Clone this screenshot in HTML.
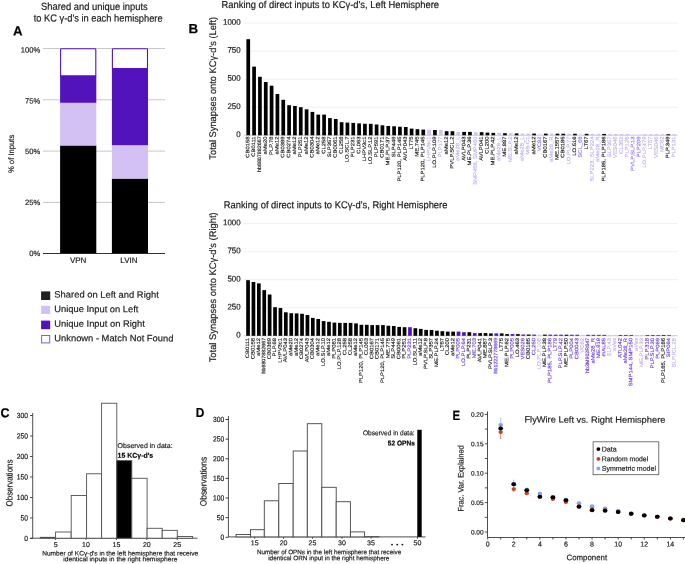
<!DOCTYPE html>
<html><head><meta charset="utf-8">
<style>
html,body{margin:0;padding:0;background:#fff;width:685px;height:564px;overflow:hidden}
svg{display:block;font-family:"Liberation Sans", sans-serif;-webkit-font-smoothing:antialiased;will-change:transform;transform:translateZ(0)}
</style></head><body>
<svg width="685" height="564" viewBox="0 0 685 564">
<rect width="685" height="564" fill="#fff"/>
<text transform="translate(94.4,9.9) rotate(0.04) scale(1,1.08)" x="0" y="0" font-size="9.4" text-anchor="middle" font-weight="normal" fill="#1a1a1a" textLength="106.6" lengthAdjust="spacingAndGlyphs"  stroke="#1a1a1a" stroke-width="0.18">Shared and unique inputs</text>
<text transform="translate(98.15,21.6) rotate(0.04) scale(1,1.08)" x="0" y="0" font-size="9.4" text-anchor="middle" font-weight="normal" fill="#1a1a1a" textLength="129.0" lengthAdjust="spacingAndGlyphs"  stroke="#1a1a1a" stroke-width="0.18">to KC γ-d's in each hemisphere</text>
<text transform="translate(13.0,35.6) rotate(0.04) scale(1,1.0)" x="0" y="0" font-size="13.4" text-anchor="start" font-weight="bold" fill="#000" textLength="9.6" lengthAdjust="spacingAndGlyphs"  stroke="#000" stroke-width="0.18">A</text>
<line x1="43" y1="48.5" x2="165" y2="48.5" stroke="#c8c8c8" stroke-width="1"/>
<line x1="43" y1="99.8" x2="165" y2="99.8" stroke="#c8c8c8" stroke-width="1"/>
<line x1="43" y1="151.1" x2="165" y2="151.1" stroke="#c8c8c8" stroke-width="1"/>
<line x1="43" y1="202.4" x2="165" y2="202.4" stroke="#c8c8c8" stroke-width="1"/>
<text transform="translate(40.3,52.5) rotate(0.04) scale(1,1.0)" x="0" y="0" font-size="7.6" text-anchor="end" font-weight="normal" fill="#222"  stroke="#222" stroke-width="0.18">100%</text>
<text transform="translate(40.3,103.4) rotate(0.04) scale(1,1.0)" x="0" y="0" font-size="7.6" text-anchor="end" font-weight="normal" fill="#222"  stroke="#222" stroke-width="0.18">75%</text>
<text transform="translate(40.3,154.0) rotate(0.04) scale(1,1.0)" x="0" y="0" font-size="7.6" text-anchor="end" font-weight="normal" fill="#222"  stroke="#222" stroke-width="0.18">50%</text>
<text transform="translate(40.3,205.0) rotate(0.04) scale(1,1.0)" x="0" y="0" font-size="7.6" text-anchor="end" font-weight="normal" fill="#222"  stroke="#222" stroke-width="0.18">25%</text>
<text transform="translate(40.3,256.1) rotate(0.04) scale(1,1.0)" x="0" y="0" font-size="7.6" text-anchor="end" font-weight="normal" fill="#222"  stroke="#222" stroke-width="0.18">0%</text>
<line x1="43" y1="253.5" x2="165" y2="253.5" stroke="#333" stroke-width="1"/>
<rect x="60.1" y="145.5" width="36.199999999999996" height="107.80000000000001" fill="#000"/>
<rect x="60.1" y="102.8" width="36.199999999999996" height="42.7" fill="#d3c1f4"/>
<rect x="60.1" y="75.9" width="36.199999999999996" height="26.89999999999999" fill="#5213bc"/>
<rect x="60.6" y="48.7" width="35.2" height="27.3" fill="#fff" stroke="#5213bc" stroke-width="1.1" rx="0.8"/>
<rect x="60.1" y="75.5" width="36.199999999999996" height="0.9000000000000057" fill="#5213bc"/>
<rect x="111.9" y="178.6" width="36.099999999999994" height="74.70000000000002" fill="#000"/>
<rect x="111.9" y="145.2" width="36.099999999999994" height="33.400000000000006" fill="#d3c1f4"/>
<rect x="111.9" y="68.4" width="36.099999999999994" height="76.79999999999998" fill="#5213bc"/>
<rect x="112.4" y="48.7" width="35.1" height="19.9" fill="#fff" stroke="#5213bc" stroke-width="1.1" rx="0.8"/>
<rect x="111.9" y="68.0" width="36.099999999999994" height="1.0" fill="#5213bc"/>
<text transform="translate(78.1,263.0) rotate(0.04) scale(1,1.0)" x="0" y="0" font-size="8" text-anchor="middle" font-weight="normal" fill="#1a1a1a"  stroke="#1a1a1a" stroke-width="0.18">VPN</text>
<text transform="translate(128.9,263.0) rotate(0.04) scale(1,1.0)" x="0" y="0" font-size="8" text-anchor="middle" font-weight="normal" fill="#1a1a1a"  stroke="#1a1a1a" stroke-width="0.18">LVIN</text>
<text transform="translate(14.0,153.9) rotate(-89.96)" x="0" y="0" font-size="8.1" text-anchor="middle" fill="#222" textLength="38.4" lengthAdjust="spacingAndGlyphs" stroke="#222" stroke-width="0.18">% of Inputs</text>
<rect x="41.1" y="291.4" width="9.1" height="8.600000000000023" fill="#231f20"/>
<text transform="translate(54.3,297.6) rotate(0.04) scale(1,1.0)" x="0" y="0" font-size="9.2" text-anchor="start" font-weight="normal" fill="#1a1a1a" textLength="104.5" lengthAdjust="spacingAndGlyphs"  stroke="#1a1a1a" stroke-width="0.18">Shared on Left and Right</text>
<rect x="41.1" y="305.8" width="9.1" height="8.199999999999989" fill="#d3c1f4"/>
<text transform="translate(54.3,312.1) rotate(0.04) scale(1,1.0)" x="0" y="0" font-size="9.2" text-anchor="start" font-weight="normal" fill="#1a1a1a" textLength="84.1" lengthAdjust="spacingAndGlyphs"  stroke="#1a1a1a" stroke-width="0.18">Unique Input on Left</text>
<rect x="41.1" y="320.6" width="9.1" height="8.599999999999966" fill="#5213bc"/>
<text transform="translate(54.3,326.8) rotate(0.04) scale(1,1.0)" x="0" y="0" font-size="9.2" text-anchor="start" font-weight="normal" fill="#1a1a1a" textLength="90.5" lengthAdjust="spacingAndGlyphs"  stroke="#1a1a1a" stroke-width="0.18">Unique Input on Right</text>
<rect x="41.6" y="335.5" width="8.1" height="7.399999999999977" fill="#fff" stroke="#7f5ce0" stroke-width="1"/>
<text transform="translate(54.3,341.3) rotate(0.04) scale(1,1.0)" x="0" y="0" font-size="9.2" text-anchor="start" font-weight="normal" fill="#1a1a1a" textLength="119.1" lengthAdjust="spacingAndGlyphs"  stroke="#1a1a1a" stroke-width="0.18">Unknown - Match Not Found</text>
<text transform="translate(188.6,33.3) rotate(0.04) scale(1,1.0)" x="0" y="0" font-size="13.3" text-anchor="start" font-weight="bold" fill="#000"  stroke="#000" stroke-width="0.18">B</text>
<text transform="translate(221.6,7.9) rotate(0.04) scale(1,1.08)" x="0" y="0" font-size="9.3" text-anchor="start" font-weight="normal" fill="#1a1a1a" textLength="217.4" lengthAdjust="spacingAndGlyphs"  stroke="#1a1a1a" stroke-width="0.18">Ranking of direct inputs to KCγ-d's, Left Hemisphere</text>
<line x1="244" y1="23.00" x2="677.5" y2="23.00" stroke="#ededed" stroke-width="0.9"/>
<text transform="translate(240.6,24.7) rotate(0.04) scale(1,1.05)" x="0" y="0" font-size="7.9" text-anchor="end" font-weight="normal" fill="#1a1a1a"  stroke="#1a1a1a" stroke-width="0.18">1000</text>
<line x1="244" y1="51.08" x2="677.5" y2="51.08" stroke="#ededed" stroke-width="0.9"/>
<text transform="translate(240.6,52.78) rotate(0.04) scale(1,1.05)" x="0" y="0" font-size="7.9" text-anchor="end" font-weight="normal" fill="#1a1a1a"  stroke="#1a1a1a" stroke-width="0.18">750</text>
<line x1="244" y1="79.15" x2="677.5" y2="79.15" stroke="#ededed" stroke-width="0.9"/>
<text transform="translate(240.6,80.85) rotate(0.04) scale(1,1.05)" x="0" y="0" font-size="7.9" text-anchor="end" font-weight="normal" fill="#1a1a1a"  stroke="#1a1a1a" stroke-width="0.18">500</text>
<line x1="244" y1="107.23" x2="677.5" y2="107.23" stroke="#ededed" stroke-width="0.9"/>
<text transform="translate(240.6,108.93) rotate(0.04) scale(1,1.05)" x="0" y="0" font-size="7.9" text-anchor="end" font-weight="normal" fill="#1a1a1a"  stroke="#1a1a1a" stroke-width="0.18">250</text>
<text transform="translate(240.6,137.0) rotate(0.04) scale(1,1.05)" x="0" y="0" font-size="7.9" text-anchor="end" font-weight="normal" fill="#1a1a1a"  stroke="#1a1a1a" stroke-width="0.18">0</text>
<line x1="244" y1="135.3" x2="677.5" y2="135.3" stroke="#bbb" stroke-width="0.7"/>
<rect x="246.40" y="39.20" width="3.7" height="96.10" fill="#000"/>
<text transform="translate(249.30,136.4) rotate(-89.96) scale(1.19,1)" x="0" y="0" font-size="4.95" text-anchor="end" fill="#111" stroke="#111" stroke-width="0.14">CB0158</text>
<rect x="252.23" y="66.60" width="3.7" height="68.70" fill="#000"/>
<text transform="translate(255.13,136.4) rotate(-89.96) scale(1.19,1)" x="0" y="0" font-size="4.95" text-anchor="end" fill="#111" stroke="#111" stroke-width="0.14">CB0111</text>
<rect x="258.07" y="76.80" width="3.7" height="58.50" fill="#000"/>
<text transform="translate(260.97,136.4) rotate(-89.96) scale(1.08,1)" x="0" y="0" font-size="4.95" text-anchor="end" fill="#111" stroke="#111" stroke-width="0.14">hb6807882667</text>
<rect x="263.90" y="82.00" width="3.7" height="53.30" fill="#000"/>
<text transform="translate(266.80,136.4) rotate(-89.96) scale(1.19,1)" x="0" y="0" font-size="4.95" text-anchor="end" fill="#111" stroke="#111" stroke-width="0.14">aMe20</text>
<rect x="269.74" y="85.70" width="3.7" height="49.60" fill="#000"/>
<text transform="translate(272.64,136.4) rotate(-89.96) scale(1.19,1)" x="0" y="0" font-size="4.95" text-anchor="end" fill="#111" stroke="#111" stroke-width="0.14">PLP.78</text>
<rect x="275.57" y="94.00" width="3.7" height="41.30" fill="#000"/>
<text transform="translate(278.47,136.4) rotate(-89.96) scale(1.19,1)" x="0" y="0" font-size="4.95" text-anchor="end" fill="#111" stroke="#111" stroke-width="0.14">aMe12</text>
<rect x="281.40" y="99.80" width="3.7" height="35.50" fill="#000"/>
<text transform="translate(284.30,136.4) rotate(-89.96) scale(1.19,1)" x="0" y="0" font-size="4.95" text-anchor="end" fill="#111" stroke="#111" stroke-width="0.14">CB0389</text>
<rect x="287.24" y="105.20" width="3.7" height="30.10" fill="#000"/>
<text transform="translate(290.14,136.4) rotate(-89.96) scale(1.19,1)" x="0" y="0" font-size="4.95" text-anchor="end" fill="#111" stroke="#111" stroke-width="0.14">CB0274</text>
<rect x="293.07" y="106.00" width="3.7" height="29.30" fill="#000"/>
<text transform="translate(295.97,136.4) rotate(-89.96) scale(1.19,1)" x="0" y="0" font-size="4.95" text-anchor="end" fill="#111" stroke="#111" stroke-width="0.14">aMe12</text>
<rect x="298.91" y="107.20" width="3.7" height="28.10" fill="#000"/>
<text transform="translate(301.81,136.4) rotate(-89.96) scale(1.19,1)" x="0" y="0" font-size="4.95" text-anchor="end" fill="#111" stroke="#111" stroke-width="0.14">PLP251</text>
<rect x="304.74" y="109.30" width="3.7" height="26.00" fill="#000"/>
<text transform="translate(307.64,136.4) rotate(-89.96) scale(1.19,1)" x="0" y="0" font-size="4.95" text-anchor="end" fill="#111" stroke="#111" stroke-width="0.14">aMe12</text>
<rect x="310.57" y="111.90" width="3.7" height="23.40" fill="#000"/>
<text transform="translate(313.47,136.4) rotate(-89.96) scale(1.19,1)" x="0" y="0" font-size="4.95" text-anchor="end" fill="#111" stroke="#111" stroke-width="0.14">CB0304</text>
<rect x="316.41" y="114.60" width="3.7" height="20.70" fill="#000"/>
<text transform="translate(319.31,136.4) rotate(-89.96) scale(1.19,1)" x="0" y="0" font-size="4.95" text-anchor="end" fill="#111" stroke="#111" stroke-width="0.14">aMe12</text>
<rect x="322.24" y="114.60" width="3.7" height="20.70" fill="#000"/>
<text transform="translate(325.14,136.4) rotate(-89.96) scale(1.19,1)" x="0" y="0" font-size="4.95" text-anchor="end" fill="#111" stroke="#111" stroke-width="0.14">CL258</text>
<rect x="328.08" y="118.10" width="3.7" height="17.20" fill="#000"/>
<text transform="translate(330.98,136.4) rotate(-89.96) scale(1.19,1)" x="0" y="0" font-size="4.95" text-anchor="end" fill="#111" stroke="#111" stroke-width="0.14">SLP357</text>
<rect x="333.91" y="119.00" width="3.7" height="16.30" fill="#000"/>
<text transform="translate(336.81,136.4) rotate(-89.96) scale(1.19,1)" x="0" y="0" font-size="4.95" text-anchor="end" fill="#111" stroke="#111" stroke-width="0.14">CB0061</text>
<rect x="339.74" y="122.20" width="3.7" height="13.10" fill="#000"/>
<text transform="translate(342.64,136.4) rotate(-89.96) scale(1.19,1)" x="0" y="0" font-size="4.95" text-anchor="end" fill="#111" stroke="#111" stroke-width="0.14">CL258</text>
<rect x="345.58" y="122.60" width="3.7" height="12.70" fill="#000"/>
<text transform="translate(348.48,136.4) rotate(-89.96) scale(1.19,1)" x="0" y="0" font-size="4.95" text-anchor="end" fill="#111" stroke="#111" stroke-width="0.14">LO.SCL.7</text>
<rect x="351.41" y="122.90" width="3.7" height="12.40" fill="#000"/>
<text transform="translate(354.31,136.4) rotate(-89.96) scale(1.19,1)" x="0" y="0" font-size="4.95" text-anchor="end" fill="#111" stroke="#111" stroke-width="0.14">PLP231</text>
<rect x="357.25" y="123.40" width="3.7" height="11.90" fill="#000"/>
<text transform="translate(360.15,136.4) rotate(-89.96) scale(1.19,1)" x="0" y="0" font-size="4.95" text-anchor="end" fill="#111" stroke="#111" stroke-width="0.14">CL063</text>
<rect x="363.08" y="123.80" width="3.7" height="11.50" fill="#000"/>
<text transform="translate(365.98,136.4) rotate(-89.96) scale(1.19,1)" x="0" y="0" font-size="4.95" text-anchor="end" fill="#111" stroke="#111" stroke-width="0.14">LHPV3c1</text>
<rect x="368.91" y="123.80" width="3.7" height="11.50" fill="#000"/>
<text transform="translate(371.81,136.4) rotate(-89.96) scale(1.19,1)" x="0" y="0" font-size="4.95" text-anchor="end" fill="#111" stroke="#111" stroke-width="0.14">LO.SLP.12</text>
<rect x="374.75" y="124.50" width="3.7" height="10.80" fill="#000"/>
<text transform="translate(377.65,136.4) rotate(-89.96) scale(1.19,1)" x="0" y="0" font-size="4.95" text-anchor="end" fill="#111" stroke="#111" stroke-width="0.14">PLP591</text>
<rect x="380.58" y="125.30" width="3.7" height="10.00" fill="#000"/>
<text transform="translate(383.48,136.4) rotate(-89.96) scale(1.19,1)" x="0" y="0" font-size="4.95" text-anchor="end" fill="#111" stroke="#111" stroke-width="0.14">CB0171</text>
<rect x="386.42" y="126.00" width="3.7" height="9.30" fill="#000"/>
<text transform="translate(389.32,136.4) rotate(-89.96) scale(1.19,1)" x="0" y="0" font-size="4.95" text-anchor="end" fill="#111" stroke="#111" stroke-width="0.14">ME.PLP.37</text>
<rect x="392.25" y="126.30" width="3.7" height="9.00" fill="#000"/>
<text transform="translate(395.15,136.4) rotate(-89.96) scale(1.19,1)" x="0" y="0" font-size="4.95" text-anchor="end" fill="#111" stroke="#111" stroke-width="0.14">SLP449</text>
<rect x="398.08" y="126.70" width="3.7" height="8.60" fill="#000"/>
<text transform="translate(400.98,136.4) rotate(-89.96) scale(1.19,1)" x="0" y="0" font-size="4.95" text-anchor="end" fill="#111" stroke="#111" stroke-width="0.14">PLP120, PLP145</text>
<rect x="403.92" y="127.00" width="3.7" height="8.30" fill="#000"/>
<text transform="translate(406.82,136.4) rotate(-89.96) scale(1.19,1)" x="0" y="0" font-size="4.95" text-anchor="end" fill="#111" stroke="#111" stroke-width="0.14">AVLP043</text>
<rect x="409.75" y="128.60" width="3.7" height="6.70" fill="#000"/>
<text transform="translate(412.65,136.4) rotate(-89.96) scale(1.19,1)" x="0" y="0" font-size="4.95" text-anchor="end" fill="#111" stroke="#111" stroke-width="0.14">LT75</text>
<rect x="415.59" y="129.20" width="3.7" height="6.10" fill="#000"/>
<text transform="translate(418.49,136.4) rotate(-89.96) scale(1.19,1)" x="0" y="0" font-size="4.95" text-anchor="end" fill="#111" stroke="#111" stroke-width="0.14">ME.745</text>
<rect x="421.42" y="129.60" width="3.7" height="5.70" fill="#000"/>
<text transform="translate(424.32,136.4) rotate(-89.96) scale(1.19,1)" x="0" y="0" font-size="4.95" text-anchor="end" fill="#111" stroke="#111" stroke-width="0.14">PLP120, PLP145</text>
<rect x="427.25" y="129.80" width="3.7" height="5.50" fill="#d3c1f4"/>
<text transform="translate(430.15,136.4) rotate(-89.96) scale(1.19,1)" x="0" y="0" font-size="4.95" text-anchor="end" fill="#bfaeee" stroke="#bfaeee" stroke-width="0.14">LHPV8c1</text>
<rect x="433.09" y="130.00" width="3.7" height="5.30" fill="#000"/>
<text transform="translate(435.99,136.4) rotate(-89.96) scale(1.19,1)" x="0" y="0" font-size="4.95" text-anchor="end" fill="#111" stroke="#111" stroke-width="0.14">LO.PLP.109</text>
<rect x="438.92" y="130.00" width="3.7" height="5.30" fill="#d3c1f4"/>
<text transform="translate(441.82,136.4) rotate(-89.96) scale(1.19,1)" x="0" y="0" font-size="4.95" text-anchor="end" fill="#bfaeee" stroke="#bfaeee" stroke-width="0.14">PLP177</text>
<rect x="444.76" y="131.20" width="3.7" height="4.10" fill="#000"/>
<text transform="translate(447.66,136.4) rotate(-89.96) scale(1.19,1)" x="0" y="0" font-size="4.95" text-anchor="end" fill="#111" stroke="#111" stroke-width="0.14">aMe12</text>
<rect x="450.59" y="131.20" width="3.7" height="4.10" fill="#000"/>
<text transform="translate(453.49,136.4) rotate(-89.96) scale(1.19,1)" x="0" y="0" font-size="4.95" text-anchor="end" fill="#111" stroke="#111" stroke-width="0.14">PVLP.SCL.2</text>
<rect x="456.42" y="131.90" width="3.7" height="3.40" fill="#d3c1f4"/>
<text transform="translate(459.32,136.4) rotate(-89.96) scale(1.19,1)" x="0" y="0" font-size="4.95" text-anchor="end" fill="#bfaeee" stroke="#bfaeee" stroke-width="0.14">aMe28_L</text>
<rect x="462.26" y="131.90" width="3.7" height="3.40" fill="#000"/>
<text transform="translate(465.16,136.4) rotate(-89.96) scale(1.19,1)" x="0" y="0" font-size="4.95" text-anchor="end" fill="#111" stroke="#111" stroke-width="0.14">AVLP043</text>
<rect x="468.09" y="131.90" width="3.7" height="3.40" fill="#000"/>
<text transform="translate(470.99,136.4) rotate(-89.96) scale(1.19,1)" x="0" y="0" font-size="4.95" text-anchor="end" fill="#111" stroke="#111" stroke-width="0.14">ME.PLP.36</text>
<rect x="473.93" y="132.20" width="3.7" height="3.10" fill="#d3c1f4"/>
<text transform="translate(476.83,136.4) rotate(-89.96) scale(1.19,1)" x="0" y="0" font-size="4.95" text-anchor="end" fill="#bfaeee" stroke="#bfaeee" stroke-width="0.14">SMP458, SMP460</text>
<rect x="479.76" y="132.20" width="3.7" height="3.10" fill="#000"/>
<text transform="translate(482.66,136.4) rotate(-89.96) scale(1.19,1)" x="0" y="0" font-size="4.95" text-anchor="end" fill="#111" stroke="#111" stroke-width="0.14">AVLP041</text>
<rect x="485.59" y="132.60" width="3.7" height="2.70" fill="#000"/>
<text transform="translate(488.49,136.4) rotate(-89.96) scale(1.19,1)" x="0" y="0" font-size="4.95" text-anchor="end" fill="#111" stroke="#111" stroke-width="0.14">CL200</text>
<rect x="491.43" y="132.90" width="3.7" height="2.40" fill="#000"/>
<text transform="translate(494.33,136.4) rotate(-89.96) scale(1.19,1)" x="0" y="0" font-size="4.95" text-anchor="end" fill="#111" stroke="#111" stroke-width="0.14">ME.PLP.42</text>
<rect x="497.26" y="132.90" width="3.7" height="2.40" fill="#d3c1f4"/>
<text transform="translate(500.16,136.4) rotate(-89.96) scale(1.19,1)" x="0" y="0" font-size="4.95" text-anchor="end" fill="#bfaeee" stroke="#bfaeee" stroke-width="0.14">aMe28_L</text>
<rect x="503.10" y="133.20" width="3.7" height="2.10" fill="#000"/>
<text transform="translate(506.00,136.4) rotate(-89.96) scale(1.19,1)" x="0" y="0" font-size="4.95" text-anchor="end" fill="#111" stroke="#111" stroke-width="0.14">ME.887</text>
<rect x="508.93" y="133.20" width="3.7" height="2.10" fill="#d3c1f4"/>
<text transform="translate(511.83,136.4) rotate(-89.96) scale(1.19,1)" x="0" y="0" font-size="4.95" text-anchor="end" fill="#bfaeee" stroke="#bfaeee" stroke-width="0.14">ME.SLP.2</text>
<rect x="514.76" y="133.40" width="3.7" height="1.90" fill="#000"/>
<text transform="translate(517.66,136.4) rotate(-89.96) scale(1.19,1)" x="0" y="0" font-size="4.95" text-anchor="end" fill="#111" stroke="#111" stroke-width="0.14">aMe12</text>
<rect x="520.60" y="133.50" width="3.7" height="1.80" fill="#d3c1f4"/>
<text transform="translate(523.50,136.4) rotate(-89.96) scale(1.19,1)" x="0" y="0" font-size="4.95" text-anchor="end" fill="#bfaeee" stroke="#bfaeee" stroke-width="0.14">aMe28_L</text>
<rect x="526.43" y="133.53" width="3.7" height="1.77" fill="#d3c1f4"/>
<text transform="translate(529.33,136.4) rotate(-89.96) scale(1.19,1)" x="0" y="0" font-size="4.95" text-anchor="end" fill="#bfaeee" stroke="#bfaeee" stroke-width="0.14">MB-C1</text>
<rect x="532.27" y="133.56" width="3.7" height="1.74" fill="#000"/>
<text transform="translate(535.17,136.4) rotate(-89.96) scale(1.19,1)" x="0" y="0" font-size="4.95" text-anchor="end" fill="#111" stroke="#111" stroke-width="0.14">aMe12</text>
<rect x="538.10" y="133.59" width="3.7" height="1.71" fill="#e9e2fa"/>
<text transform="translate(541.00,136.4) rotate(-89.96) scale(1.19,1)" x="0" y="0" font-size="4.95" text-anchor="end" fill="#9274e6" stroke="#9274e6" stroke-width="0.14">VC82</text>
<rect x="543.93" y="133.62" width="3.7" height="1.68" fill="#000"/>
<text transform="translate(546.83,136.4) rotate(-89.96) scale(1.19,1)" x="0" y="0" font-size="4.95" text-anchor="end" fill="#111" stroke="#111" stroke-width="0.14">CB0167</text>
<rect x="549.77" y="133.65" width="3.7" height="1.65" fill="#d3c1f4"/>
<text transform="translate(552.67,136.4) rotate(-89.96) scale(1.19,1)" x="0" y="0" font-size="4.95" text-anchor="end" fill="#bfaeee" stroke="#bfaeee" stroke-width="0.14">aMe28_R</text>
<rect x="555.60" y="133.68" width="3.7" height="1.62" fill="#000"/>
<text transform="translate(558.50,136.4) rotate(-89.96) scale(1.19,1)" x="0" y="0" font-size="4.95" text-anchor="end" fill="#111" stroke="#111" stroke-width="0.14">ME.1557</text>
<rect x="561.44" y="133.71" width="3.7" height="1.59" fill="#000"/>
<text transform="translate(564.34,136.4) rotate(-89.96) scale(1.19,1)" x="0" y="0" font-size="4.95" text-anchor="end" fill="#111" stroke="#111" stroke-width="0.14">CB0185</text>
<rect x="567.27" y="133.74" width="3.7" height="1.56" fill="#d3c1f4"/>
<text transform="translate(570.17,136.4) rotate(-89.96) scale(1.19,1)" x="0" y="0" font-size="4.95" text-anchor="end" fill="#bfaeee" stroke="#bfaeee" stroke-width="0.14">LO.PLP.77</text>
<rect x="573.10" y="133.77" width="3.7" height="1.53" fill="#000"/>
<text transform="translate(576.00,136.4) rotate(-89.96) scale(1.19,1)" x="0" y="0" font-size="4.95" text-anchor="end" fill="#111" stroke="#111" stroke-width="0.14">LO.516</text>
<rect x="578.94" y="133.80" width="3.7" height="1.50" fill="#e9e2fa"/>
<text transform="translate(581.84,136.4) rotate(-89.96) scale(1.19,1)" x="0" y="0" font-size="4.95" text-anchor="end" fill="#9274e6" stroke="#9274e6" stroke-width="0.14">SCL_68</text>
<rect x="584.77" y="133.83" width="3.7" height="1.47" fill="#000"/>
<text transform="translate(587.67,136.4) rotate(-89.96) scale(1.19,1)" x="0" y="0" font-size="4.95" text-anchor="end" fill="#111" stroke="#111" stroke-width="0.14">LT67</text>
<rect x="590.61" y="133.86" width="3.7" height="1.44" fill="#d3c1f4"/>
<text transform="translate(593.51,136.4) rotate(-89.96) scale(1.19,1)" x="0" y="0" font-size="4.95" text-anchor="end" fill="#bfaeee" stroke="#bfaeee" stroke-width="0.14">SLP223, SLP224</text>
<rect x="596.44" y="133.89" width="3.7" height="1.41" fill="#d3c1f4"/>
<text transform="translate(599.34,136.4) rotate(-89.96) scale(1.19,1)" x="0" y="0" font-size="4.95" text-anchor="end" fill="#bfaeee" stroke="#bfaeee" stroke-width="0.14">aMe28_R</text>
<rect x="602.27" y="133.92" width="3.7" height="1.38" fill="#000"/>
<text transform="translate(605.17,136.4) rotate(-89.96) scale(1.19,1)" x="0" y="0" font-size="4.95" text-anchor="end" fill="#111" stroke="#111" stroke-width="0.14">PLP185, PLP186</text>
<rect x="608.11" y="133.95" width="3.7" height="1.35" fill="#d3c1f4"/>
<text transform="translate(611.01,136.4) rotate(-89.96) scale(1.19,1)" x="0" y="0" font-size="4.95" text-anchor="end" fill="#bfaeee" stroke="#bfaeee" stroke-width="0.14">SLP357</text>
<rect x="613.94" y="133.98" width="3.7" height="1.32" fill="#d3c1f4"/>
<text transform="translate(616.84,136.4) rotate(-89.96) scale(1.19,1)" x="0" y="0" font-size="4.95" text-anchor="end" fill="#bfaeee" stroke="#bfaeee" stroke-width="0.14">VES046</text>
<rect x="619.78" y="134.01" width="3.7" height="1.29" fill="#d3c1f4"/>
<text transform="translate(622.68,136.4) rotate(-89.96) scale(1.19,1)" x="0" y="0" font-size="4.95" text-anchor="end" fill="#bfaeee" stroke="#bfaeee" stroke-width="0.14">CL352</text>
<rect x="625.61" y="134.04" width="3.7" height="1.26" fill="#d3c1f4"/>
<text transform="translate(628.51,136.4) rotate(-89.96) scale(1.19,1)" x="0" y="0" font-size="4.95" text-anchor="end" fill="#bfaeee" stroke="#bfaeee" stroke-width="0.14">PLP126</text>
<rect x="631.44" y="134.07" width="3.7" height="1.23" fill="#e9e2fa"/>
<text transform="translate(634.34,136.4) rotate(-89.96) scale(1.19,1)" x="0" y="0" font-size="4.95" text-anchor="end" fill="#9274e6" stroke="#9274e6" stroke-width="0.14">PVLP.SLP.13</text>
<rect x="637.28" y="134.10" width="3.7" height="1.20" fill="#e9e2fa"/>
<text transform="translate(640.18,136.4) rotate(-89.96) scale(1.19,1)" x="0" y="0" font-size="4.95" text-anchor="end" fill="#9274e6" stroke="#9274e6" stroke-width="0.14">PLP209</text>
<rect x="643.11" y="134.13" width="3.7" height="1.17" fill="#d3c1f4"/>
<text transform="translate(646.01,136.4) rotate(-89.96) scale(1.19,1)" x="0" y="0" font-size="4.95" text-anchor="end" fill="#bfaeee" stroke="#bfaeee" stroke-width="0.14">LO.PLP.479</text>
<rect x="648.95" y="134.16" width="3.7" height="1.14" fill="#d3c1f4"/>
<text transform="translate(651.85,136.4) rotate(-89.96) scale(1.19,1)" x="0" y="0" font-size="4.95" text-anchor="end" fill="#bfaeee" stroke="#bfaeee" stroke-width="0.14">LT57</text>
<rect x="654.78" y="134.19" width="3.7" height="1.11" fill="#d3c1f4"/>
<text transform="translate(657.68,136.4) rotate(-89.96) scale(1.19,1)" x="0" y="0" font-size="4.95" text-anchor="end" fill="#bfaeee" stroke="#bfaeee" stroke-width="0.14">VES046</text>
<rect x="660.61" y="134.22" width="3.7" height="1.08" fill="#d3c1f4"/>
<text transform="translate(663.51,136.4) rotate(-89.96) scale(1.19,1)" x="0" y="0" font-size="4.95" text-anchor="end" fill="#bfaeee" stroke="#bfaeee" stroke-width="0.14">MC62</text>
<rect x="666.45" y="134.25" width="3.7" height="1.05" fill="#000"/>
<text transform="translate(669.35,136.4) rotate(-89.96) scale(1.19,1)" x="0" y="0" font-size="4.95" text-anchor="end" fill="#111" stroke="#111" stroke-width="0.14">PLP.349</text>
<rect x="672.28" y="134.28" width="3.7" height="1.02" fill="#d3c1f4"/>
<text transform="translate(675.18,136.4) rotate(-89.96) scale(1.19,1)" x="0" y="0" font-size="4.95" text-anchor="end" fill="#bfaeee" stroke="#bfaeee" stroke-width="0.14">PLP131</text>
<text transform="translate(216.0,88.3) rotate(-89.96)" x="0" y="0" font-size="9.6" text-anchor="middle" fill="#1a1a1a" textLength="142.7" lengthAdjust="spacingAndGlyphs" stroke="#1a1a1a" stroke-width="0.18">Total Synapses onto KCγ-d's (Left)</text>
<text transform="translate(223.7,208.2) rotate(0.04) scale(1,1.08)" x="0" y="0" font-size="9.3" text-anchor="start" font-weight="normal" fill="#1a1a1a" textLength="223.7" lengthAdjust="spacingAndGlyphs"  stroke="#1a1a1a" stroke-width="0.18">Ranking of direct inputs to KCγ-d's, Right Hemisphere</text>
<line x1="244" y1="223.60" x2="677.5" y2="223.60" stroke="#ededed" stroke-width="0.9"/>
<text transform="translate(240.6,225.3) rotate(0.04) scale(1,1.05)" x="0" y="0" font-size="7.9" text-anchor="end" font-weight="normal" fill="#1a1a1a"  stroke="#1a1a1a" stroke-width="0.18">1000</text>
<line x1="244" y1="251.65" x2="677.5" y2="251.65" stroke="#ededed" stroke-width="0.9"/>
<text transform="translate(240.6,253.35) rotate(0.04) scale(1,1.05)" x="0" y="0" font-size="7.9" text-anchor="end" font-weight="normal" fill="#1a1a1a"  stroke="#1a1a1a" stroke-width="0.18">750</text>
<line x1="244" y1="279.70" x2="677.5" y2="279.70" stroke="#ededed" stroke-width="0.9"/>
<text transform="translate(240.6,281.4) rotate(0.04) scale(1,1.05)" x="0" y="0" font-size="7.9" text-anchor="end" font-weight="normal" fill="#1a1a1a"  stroke="#1a1a1a" stroke-width="0.18">500</text>
<line x1="244" y1="307.75" x2="677.5" y2="307.75" stroke="#ededed" stroke-width="0.9"/>
<text transform="translate(240.6,309.45) rotate(0.04) scale(1,1.05)" x="0" y="0" font-size="7.9" text-anchor="end" font-weight="normal" fill="#1a1a1a"  stroke="#1a1a1a" stroke-width="0.18">250</text>
<text transform="translate(240.6,337.5) rotate(0.04) scale(1,1.05)" x="0" y="0" font-size="7.9" text-anchor="end" font-weight="normal" fill="#1a1a1a"  stroke="#1a1a1a" stroke-width="0.18">0</text>
<line x1="244" y1="335.8" x2="677.5" y2="335.8" stroke="#bbb" stroke-width="0.7"/>
<rect x="246.20" y="280.20" width="3.7" height="55.60" fill="#000"/>
<text transform="translate(249.10,337.9) rotate(-89.96) scale(1.19,1)" x="0" y="0" font-size="4.95" text-anchor="end" fill="#111" stroke="#111" stroke-width="0.14">CB0111</text>
<rect x="251.60" y="282.00" width="3.7" height="53.80" fill="#000"/>
<text transform="translate(254.50,337.9) rotate(-89.96) scale(1.19,1)" x="0" y="0" font-size="4.95" text-anchor="end" fill="#111" stroke="#111" stroke-width="0.14">CB0158</text>
<rect x="256.99" y="283.40" width="3.7" height="52.40" fill="#000"/>
<text transform="translate(259.89,337.9) rotate(-89.96) scale(1.19,1)" x="0" y="0" font-size="4.95" text-anchor="end" fill="#111" stroke="#111" stroke-width="0.14">aMe12</text>
<rect x="262.39" y="290.10" width="3.7" height="45.70" fill="#000"/>
<text transform="translate(265.29,337.9) rotate(-89.96) scale(1.08,1)" x="0" y="0" font-size="4.95" text-anchor="end" fill="#111" stroke="#111" stroke-width="0.14">hb6807882667</text>
<rect x="267.79" y="294.50" width="3.7" height="41.30" fill="#000"/>
<text transform="translate(270.69,337.9) rotate(-89.96) scale(1.19,1)" x="0" y="0" font-size="4.95" text-anchor="end" fill="#111" stroke="#111" stroke-width="0.14">CB0389</text>
<rect x="273.19" y="307.20" width="3.7" height="28.60" fill="#000"/>
<text transform="translate(276.09,337.9) rotate(-89.96) scale(1.19,1)" x="0" y="0" font-size="4.95" text-anchor="end" fill="#111" stroke="#111" stroke-width="0.14">PLP.68</text>
<rect x="278.58" y="308.00" width="3.7" height="27.80" fill="#000"/>
<text transform="translate(281.48,337.9) rotate(-89.96) scale(1.19,1)" x="0" y="0" font-size="4.95" text-anchor="end" fill="#111" stroke="#111" stroke-width="0.14">LHPV3c1</text>
<rect x="283.98" y="312.30" width="3.7" height="23.50" fill="#000"/>
<text transform="translate(286.88,337.9) rotate(-89.96) scale(1.19,1)" x="0" y="0" font-size="4.95" text-anchor="end" fill="#111" stroke="#111" stroke-width="0.14">AVLP043</text>
<rect x="289.38" y="313.20" width="3.7" height="22.60" fill="#000"/>
<text transform="translate(292.28,337.9) rotate(-89.96) scale(1.19,1)" x="0" y="0" font-size="4.95" text-anchor="end" fill="#111" stroke="#111" stroke-width="0.14">aMe20</text>
<rect x="294.77" y="313.40" width="3.7" height="22.40" fill="#000"/>
<text transform="translate(297.67,337.9) rotate(-89.96) scale(1.19,1)" x="0" y="0" font-size="4.95" text-anchor="end" fill="#111" stroke="#111" stroke-width="0.14">aMe12</text>
<rect x="300.17" y="313.80" width="3.7" height="22.00" fill="#000"/>
<text transform="translate(303.07,337.9) rotate(-89.96) scale(1.19,1)" x="0" y="0" font-size="4.95" text-anchor="end" fill="#111" stroke="#111" stroke-width="0.14">CB0274</text>
<rect x="305.57" y="315.00" width="3.7" height="20.80" fill="#000"/>
<text transform="translate(308.47,337.9) rotate(-89.96) scale(1.19,1)" x="0" y="0" font-size="4.95" text-anchor="end" fill="#111" stroke="#111" stroke-width="0.14">AVLP043</text>
<rect x="310.96" y="317.90" width="3.7" height="17.90" fill="#000"/>
<text transform="translate(313.86,337.9) rotate(-89.96) scale(1.19,1)" x="0" y="0" font-size="4.95" text-anchor="end" fill="#111" stroke="#111" stroke-width="0.14">CB0304</text>
<rect x="316.36" y="319.00" width="3.7" height="16.80" fill="#000"/>
<text transform="translate(319.26,337.9) rotate(-89.96) scale(1.19,1)" x="0" y="0" font-size="4.95" text-anchor="end" fill="#111" stroke="#111" stroke-width="0.14">aMe12</text>
<rect x="321.76" y="321.10" width="3.7" height="14.70" fill="#000"/>
<text transform="translate(324.66,337.9) rotate(-89.96) scale(1.19,1)" x="0" y="0" font-size="4.95" text-anchor="end" fill="#111" stroke="#111" stroke-width="0.14">LO.SLP.10</text>
<rect x="327.15" y="321.80" width="3.7" height="14.00" fill="#000"/>
<text transform="translate(330.06,337.9) rotate(-89.96) scale(1.19,1)" x="0" y="0" font-size="4.95" text-anchor="end" fill="#111" stroke="#111" stroke-width="0.14">aMe12</text>
<rect x="332.55" y="322.60" width="3.7" height="13.20" fill="#000"/>
<text transform="translate(335.45,337.9) rotate(-89.96) scale(1.19,1)" x="0" y="0" font-size="4.95" text-anchor="end" fill="#111" stroke="#111" stroke-width="0.14">PLP081</text>
<rect x="337.95" y="322.90" width="3.7" height="12.90" fill="#000"/>
<text transform="translate(340.85,337.9) rotate(-89.96) scale(1.19,1)" x="0" y="0" font-size="4.95" text-anchor="end" fill="#111" stroke="#111" stroke-width="0.14">LO.PLP.128</text>
<rect x="343.35" y="322.90" width="3.7" height="12.90" fill="#000"/>
<text transform="translate(346.25,337.9) rotate(-89.96) scale(1.19,1)" x="0" y="0" font-size="4.95" text-anchor="end" fill="#111" stroke="#111" stroke-width="0.14">CL258</text>
<rect x="348.74" y="322.90" width="3.7" height="12.90" fill="#000"/>
<text transform="translate(351.64,337.9) rotate(-89.96) scale(1.19,1)" x="0" y="0" font-size="4.95" text-anchor="end" fill="#111" stroke="#111" stroke-width="0.14">CL258</text>
<rect x="354.14" y="323.40" width="3.7" height="12.40" fill="#000"/>
<text transform="translate(357.04,337.9) rotate(-89.96) scale(1.19,1)" x="0" y="0" font-size="4.95" text-anchor="end" fill="#111" stroke="#111" stroke-width="0.14">aMe12</text>
<rect x="359.54" y="324.80" width="3.7" height="11.00" fill="#000"/>
<text transform="translate(362.44,337.9) rotate(-89.96) scale(1.19,1)" x="0" y="0" font-size="4.95" text-anchor="end" fill="#111" stroke="#111" stroke-width="0.14">PLP120, PLP145</text>
<rect x="364.93" y="324.80" width="3.7" height="11.00" fill="#000"/>
<text transform="translate(367.83,337.9) rotate(-89.96) scale(1.19,1)" x="0" y="0" font-size="4.95" text-anchor="end" fill="#111" stroke="#111" stroke-width="0.14">CL063</text>
<rect x="370.33" y="325.10" width="3.7" height="10.70" fill="#000"/>
<text transform="translate(373.23,337.9) rotate(-89.96) scale(1.19,1)" x="0" y="0" font-size="4.95" text-anchor="end" fill="#111" stroke="#111" stroke-width="0.14">CB0167</text>
<rect x="375.73" y="325.10" width="3.7" height="10.70" fill="#000"/>
<text transform="translate(378.63,337.9) rotate(-89.96) scale(1.19,1)" x="0" y="0" font-size="4.95" text-anchor="end" fill="#111" stroke="#111" stroke-width="0.14">CB0171</text>
<rect x="381.12" y="325.10" width="3.7" height="10.70" fill="#000"/>
<text transform="translate(384.03,337.9) rotate(-89.96) scale(1.19,1)" x="0" y="0" font-size="4.95" text-anchor="end" fill="#111" stroke="#111" stroke-width="0.14">PLP120, PLP145</text>
<rect x="386.52" y="325.70" width="3.7" height="10.10" fill="#000"/>
<text transform="translate(389.42,337.9) rotate(-89.96) scale(1.19,1)" x="0" y="0" font-size="4.95" text-anchor="end" fill="#111" stroke="#111" stroke-width="0.14">ME.775</text>
<rect x="391.92" y="326.00" width="3.7" height="9.80" fill="#000"/>
<text transform="translate(394.82,337.9) rotate(-89.96) scale(1.19,1)" x="0" y="0" font-size="4.95" text-anchor="end" fill="#111" stroke="#111" stroke-width="0.14">SLP449</text>
<rect x="397.32" y="326.90" width="3.7" height="8.90" fill="#000"/>
<text transform="translate(400.22,337.9) rotate(-89.96) scale(1.19,1)" x="0" y="0" font-size="4.95" text-anchor="end" fill="#111" stroke="#111" stroke-width="0.14">CB0061</text>
<rect x="402.71" y="327.20" width="3.7" height="8.60" fill="#000"/>
<text transform="translate(405.61,337.9) rotate(-89.96) scale(1.19,1)" x="0" y="0" font-size="4.95" text-anchor="end" fill="#111" stroke="#111" stroke-width="0.14">PLP251</text>
<rect x="408.11" y="327.20" width="3.7" height="8.60" fill="#5213bc"/>
<text transform="translate(411.01,337.9) rotate(-89.96) scale(1.19,1)" x="0" y="0" font-size="4.95" text-anchor="end" fill="#6a3ade" stroke="#6a3ade" stroke-width="0.14">PLP231</text>
<rect x="413.51" y="328.20" width="3.7" height="7.60" fill="#000"/>
<text transform="translate(416.41,337.9) rotate(-89.96) scale(1.19,1)" x="0" y="0" font-size="4.95" text-anchor="end" fill="#111" stroke="#111" stroke-width="0.14">LO.SLP.11</text>
<rect x="418.90" y="328.90" width="3.7" height="6.90" fill="#000"/>
<text transform="translate(421.80,337.9) rotate(-89.96) scale(1.19,1)" x="0" y="0" font-size="4.95" text-anchor="end" fill="#111" stroke="#111" stroke-width="0.14">aMe12</text>
<rect x="424.30" y="329.90" width="3.7" height="5.90" fill="#000"/>
<text transform="translate(427.20,337.9) rotate(-89.96) scale(1.19,1)" x="0" y="0" font-size="4.95" text-anchor="end" fill="#111" stroke="#111" stroke-width="0.14">PVLP.SLP.8</text>
<rect x="429.70" y="330.00" width="3.7" height="5.80" fill="#000"/>
<text transform="translate(432.60,337.9) rotate(-89.96) scale(1.19,1)" x="0" y="0" font-size="4.95" text-anchor="end" fill="#111" stroke="#111" stroke-width="0.14">SLP357</text>
<rect x="435.10" y="330.70" width="3.7" height="5.10" fill="#000"/>
<text transform="translate(438.00,337.9) rotate(-89.96) scale(1.19,1)" x="0" y="0" font-size="4.95" text-anchor="end" fill="#111" stroke="#111" stroke-width="0.14">ME.PLP.24</text>
<rect x="440.49" y="331.20" width="3.7" height="4.60" fill="#000"/>
<text transform="translate(443.39,337.9) rotate(-89.96) scale(1.19,1)" x="0" y="0" font-size="4.95" text-anchor="end" fill="#111" stroke="#111" stroke-width="0.14">LT67</text>
<rect x="445.89" y="331.60" width="3.7" height="4.20" fill="#000"/>
<text transform="translate(448.79,337.9) rotate(-89.96) scale(1.19,1)" x="0" y="0" font-size="4.95" text-anchor="end" fill="#111" stroke="#111" stroke-width="0.14">CL200</text>
<rect x="451.29" y="331.60" width="3.7" height="4.20" fill="#000"/>
<text transform="translate(454.19,337.9) rotate(-89.96) scale(1.19,1)" x="0" y="0" font-size="4.95" text-anchor="end" fill="#111" stroke="#111" stroke-width="0.14">aMe12</text>
<rect x="456.68" y="331.60" width="3.7" height="4.20" fill="#5213bc"/>
<text transform="translate(459.58,337.9) rotate(-89.96) scale(1.19,1)" x="0" y="0" font-size="4.95" text-anchor="end" fill="#6a3ade" stroke="#6a3ade" stroke-width="0.14">PLP005</text>
<rect x="462.08" y="332.20" width="3.7" height="3.60" fill="#5213bc"/>
<text transform="translate(464.98,337.9) rotate(-89.96) scale(1.19,1)" x="0" y="0" font-size="4.95" text-anchor="end" fill="#6a3ade" stroke="#6a3ade" stroke-width="0.14">LO.PLP.64</text>
<rect x="467.48" y="332.20" width="3.7" height="3.60" fill="#000"/>
<text transform="translate(470.38,337.9) rotate(-89.96) scale(1.19,1)" x="0" y="0" font-size="4.95" text-anchor="end" fill="#111" stroke="#111" stroke-width="0.14">PLP231</text>
<rect x="472.87" y="333.10" width="3.7" height="2.70" fill="#5213bc"/>
<text transform="translate(475.77,337.9) rotate(-89.96) scale(1.19,1)" x="0" y="0" font-size="4.95" text-anchor="end" fill="#6a3ade" stroke="#6a3ade" stroke-width="0.14">ME.703</text>
<rect x="478.27" y="333.10" width="3.7" height="2.70" fill="#000"/>
<text transform="translate(481.17,337.9) rotate(-89.96) scale(1.19,1)" x="0" y="0" font-size="4.95" text-anchor="end" fill="#111" stroke="#111" stroke-width="0.14">AVLP041</text>
<rect x="483.67" y="333.10" width="3.7" height="2.70" fill="#000"/>
<text transform="translate(486.57,337.9) rotate(-89.96) scale(1.19,1)" x="0" y="0" font-size="4.95" text-anchor="end" fill="#111" stroke="#111" stroke-width="0.14">ME.887</text>
<rect x="489.06" y="333.40" width="3.7" height="2.40" fill="#000"/>
<text transform="translate(491.97,337.9) rotate(-89.96) scale(1.19,1)" x="0" y="0" font-size="4.95" text-anchor="end" fill="#111" stroke="#111" stroke-width="0.14">PVLP.SLP.3</text>
<rect x="494.46" y="333.40" width="3.7" height="2.40" fill="#5213bc"/>
<text transform="translate(497.36,337.9) rotate(-89.96) scale(1.08,1)" x="0" y="0" font-size="4.95" text-anchor="end" fill="#6a3ade" stroke="#6a3ade" stroke-width="0.14">hb1222778669</text>
<rect x="499.86" y="333.40" width="3.7" height="2.40" fill="#000"/>
<text transform="translate(502.76,337.9) rotate(-89.96) scale(1.19,1)" x="0" y="0" font-size="4.95" text-anchor="end" fill="#111" stroke="#111" stroke-width="0.14">LT75</text>
<rect x="505.26" y="334.10" width="3.7" height="1.70" fill="#000"/>
<text transform="translate(508.16,337.9) rotate(-89.96) scale(1.19,1)" x="0" y="0" font-size="4.95" text-anchor="end" fill="#111" stroke="#111" stroke-width="0.14">ME.PLP.62</text>
<rect x="510.65" y="334.10" width="3.7" height="1.70" fill="#5213bc"/>
<text transform="translate(513.55,337.9) rotate(-89.96) scale(1.19,1)" x="0" y="0" font-size="4.95" text-anchor="end" fill="#6a3ade" stroke="#6a3ade" stroke-width="0.14">PLP005</text>
<rect x="516.05" y="334.10" width="3.7" height="1.70" fill="#000"/>
<text transform="translate(518.95,337.9) rotate(-89.96) scale(1.19,1)" x="0" y="0" font-size="4.95" text-anchor="end" fill="#111" stroke="#111" stroke-width="0.14">LO.463</text>
<rect x="521.45" y="334.50" width="3.7" height="1.30" fill="#5213bc"/>
<text transform="translate(524.35,337.9) rotate(-89.96) scale(1.19,1)" x="0" y="0" font-size="4.95" text-anchor="end" fill="#6a3ade" stroke="#6a3ade" stroke-width="0.14">VES026</text>
<rect x="526.84" y="334.50" width="3.7" height="1.30" fill="#000"/>
<text transform="translate(529.74,337.9) rotate(-89.96) scale(1.19,1)" x="0" y="0" font-size="4.95" text-anchor="end" fill="#111" stroke="#111" stroke-width="0.14">CB0185</text>
<rect x="532.24" y="334.60" width="3.7" height="1.20" fill="#5213bc"/>
<text transform="translate(535.14,337.9) rotate(-89.96) scale(1.19,1)" x="0" y="0" font-size="4.95" text-anchor="end" fill="#6a3ade" stroke="#6a3ade" stroke-width="0.14">CL250</text>
<rect x="537.64" y="334.62" width="3.7" height="1.18" fill="#d3c1f4"/>
<text transform="translate(540.54,337.9) rotate(-89.96) scale(1.19,1)" x="0" y="0" font-size="4.95" text-anchor="end" fill="#bfaeee" stroke="#bfaeee" stroke-width="0.14">LO.PLP.108</text>
<rect x="543.04" y="334.64" width="3.7" height="1.16" fill="#000"/>
<text transform="translate(545.94,337.9) rotate(-89.96) scale(1.19,1)" x="0" y="0" font-size="4.95" text-anchor="end" fill="#111" stroke="#111" stroke-width="0.14">ME.PLP.38</text>
<rect x="548.43" y="334.66" width="3.7" height="1.14" fill="#5213bc"/>
<text transform="translate(551.33,337.9) rotate(-89.96) scale(1.19,1)" x="0" y="0" font-size="4.95" text-anchor="end" fill="#6a3ade" stroke="#6a3ade" stroke-width="0.14">PLP185, PLP186</text>
<rect x="553.83" y="334.68" width="3.7" height="1.12" fill="#5213bc"/>
<text transform="translate(556.73,337.9) rotate(-89.96) scale(1.19,1)" x="0" y="0" font-size="4.95" text-anchor="end" fill="#6a3ade" stroke="#6a3ade" stroke-width="0.14">LT79</text>
<rect x="559.23" y="334.70" width="3.7" height="1.10" fill="#5213bc"/>
<text transform="translate(562.13,337.9) rotate(-89.96) scale(1.19,1)" x="0" y="0" font-size="4.95" text-anchor="end" fill="#6a3ade" stroke="#6a3ade" stroke-width="0.14">PLP.SLP.42</text>
<rect x="564.62" y="334.72" width="3.7" height="1.08" fill="#000"/>
<text transform="translate(567.52,337.9) rotate(-89.96) scale(1.19,1)" x="0" y="0" font-size="4.95" text-anchor="end" fill="#111" stroke="#111" stroke-width="0.14">ME.PLP.50</text>
<rect x="570.02" y="334.74" width="3.7" height="1.06" fill="#5213bc"/>
<text transform="translate(572.92,337.9) rotate(-89.96) scale(1.19,1)" x="0" y="0" font-size="4.95" text-anchor="end" fill="#6a3ade" stroke="#6a3ade" stroke-width="0.14">PLP004</text>
<rect x="575.42" y="334.76" width="3.7" height="1.04" fill="#5213bc"/>
<text transform="translate(578.32,337.9) rotate(-89.96) scale(1.19,1)" x="0" y="0" font-size="4.95" text-anchor="end" fill="#6a3ade" stroke="#6a3ade" stroke-width="0.14">CB0043</text>
<rect x="580.81" y="334.78" width="3.7" height="1.02" fill="#d3c1f4"/>
<text transform="translate(583.71,337.9) rotate(-89.96) scale(1.19,1)" x="0" y="0" font-size="4.95" text-anchor="end" fill="#bfaeee" stroke="#bfaeee" stroke-width="0.14">VC82</text>
<rect x="586.21" y="334.80" width="3.7" height="1.00" fill="#5213bc"/>
<text transform="translate(589.11,337.9) rotate(-89.96) scale(1.08,1)" x="0" y="0" font-size="4.95" text-anchor="end" fill="#6a3ade" stroke="#6a3ade" stroke-width="0.14">hb3M902R647</text>
<rect x="591.61" y="334.82" width="3.7" height="0.98" fill="#5213bc"/>
<text transform="translate(594.51,337.9) rotate(-89.96) scale(1.19,1)" x="0" y="0" font-size="4.95" text-anchor="end" fill="#6a3ade" stroke="#6a3ade" stroke-width="0.14">aMe28_R</text>
<rect x="597.00" y="334.84" width="3.7" height="0.96" fill="#5213bc"/>
<text transform="translate(599.90,337.9) rotate(-89.96) scale(1.19,1)" x="0" y="0" font-size="4.95" text-anchor="end" fill="#6a3ade" stroke="#6a3ade" stroke-width="0.14">ME.919</text>
<rect x="602.40" y="334.86" width="3.7" height="0.94" fill="#5213bc"/>
<text transform="translate(605.30,337.9) rotate(-89.96) scale(1.19,1)" x="0" y="0" font-size="4.95" text-anchor="end" fill="#6a3ade" stroke="#6a3ade" stroke-width="0.14">mAL85</text>
<rect x="607.80" y="334.88" width="3.7" height="0.92" fill="#d3c1f4"/>
<text transform="translate(610.70,337.9) rotate(-89.96) scale(1.19,1)" x="0" y="0" font-size="4.95" text-anchor="end" fill="#bfaeee" stroke="#bfaeee" stroke-width="0.14">SLP.43</text>
<rect x="613.20" y="334.90" width="3.7" height="0.90" fill="#d3c1f4"/>
<text transform="translate(616.10,337.9) rotate(-89.96) scale(1.19,1)" x="0" y="0" font-size="4.95" text-anchor="end" fill="#bfaeee" stroke="#bfaeee" stroke-width="0.14">aVes</text>
<rect x="618.59" y="334.92" width="3.7" height="0.88" fill="#5213bc"/>
<text transform="translate(621.49,337.9) rotate(-89.96) scale(1.19,1)" x="0" y="0" font-size="4.95" text-anchor="end" fill="#6a3ade" stroke="#6a3ade" stroke-width="0.14">ATL042</text>
<rect x="623.99" y="334.94" width="3.7" height="0.86" fill="#5213bc"/>
<text transform="translate(626.89,337.9) rotate(-89.96) scale(1.19,1)" x="0" y="0" font-size="4.95" text-anchor="end" fill="#6a3ade" stroke="#6a3ade" stroke-width="0.14">aMe28_R</text>
<rect x="629.39" y="334.96" width="3.7" height="0.84" fill="#5213bc"/>
<text transform="translate(632.29,337.9) rotate(-89.96) scale(1.19,1)" x="0" y="0" font-size="4.95" text-anchor="end" fill="#6a3ade" stroke="#6a3ade" stroke-width="0.14">SMP144, SMP150</text>
<rect x="634.78" y="334.98" width="3.7" height="0.82" fill="#d3c1f4"/>
<text transform="translate(637.68,337.9) rotate(-89.96) scale(1.19,1)" x="0" y="0" font-size="4.95" text-anchor="end" fill="#bfaeee" stroke="#bfaeee" stroke-width="0.14">aVes</text>
<rect x="640.18" y="335.00" width="3.7" height="0.80" fill="#d3c1f4"/>
<text transform="translate(643.08,337.9) rotate(-89.96) scale(1.19,1)" x="0" y="0" font-size="4.95" text-anchor="end" fill="#bfaeee" stroke="#bfaeee" stroke-width="0.14">ME.PLP.33</text>
<rect x="645.58" y="335.02" width="3.7" height="0.78" fill="#5213bc"/>
<text transform="translate(648.48,337.9) rotate(-89.96) scale(1.19,1)" x="0" y="0" font-size="4.95" text-anchor="end" fill="#6a3ade" stroke="#6a3ade" stroke-width="0.14">PLP.318</text>
<rect x="650.98" y="335.04" width="3.7" height="0.76" fill="#5213bc"/>
<text transform="translate(653.88,337.9) rotate(-89.96) scale(1.19,1)" x="0" y="0" font-size="4.95" text-anchor="end" fill="#6a3ade" stroke="#6a3ade" stroke-width="0.14">PLP.SLP.30</text>
<rect x="656.37" y="335.06" width="3.7" height="0.74" fill="#5213bc"/>
<text transform="translate(659.27,337.9) rotate(-89.96) scale(1.19,1)" x="0" y="0" font-size="4.95" text-anchor="end" fill="#6a3ade" stroke="#6a3ade" stroke-width="0.14">PLP069</text>
<rect x="661.77" y="335.08" width="3.7" height="0.72" fill="#000"/>
<text transform="translate(664.67,337.9) rotate(-89.96) scale(1.19,1)" x="0" y="0" font-size="4.95" text-anchor="end" fill="#111" stroke="#111" stroke-width="0.14">PLP185, PLP186</text>
<rect x="667.17" y="335.10" width="3.7" height="0.70" fill="#5213bc"/>
<text transform="translate(670.07,337.9) rotate(-89.96) scale(1.19,1)" x="0" y="0" font-size="4.95" text-anchor="end" fill="#6a3ade" stroke="#6a3ade" stroke-width="0.14">SIP064</text>
<rect x="672.56" y="335.12" width="3.7" height="0.68" fill="#d3c1f4"/>
<text transform="translate(675.46,337.9) rotate(-89.96) scale(1.19,1)" x="0" y="0" font-size="4.95" text-anchor="end" fill="#bfaeee" stroke="#bfaeee" stroke-width="0.14">SLP.ICL.28</text>
<text transform="translate(216.0,287.35) rotate(-89.96)" x="0" y="0" font-size="9.6" text-anchor="middle" fill="#1a1a1a" textLength="150.0" lengthAdjust="spacingAndGlyphs" stroke="#1a1a1a" stroke-width="0.18">Total Synapses onto KCγ-d's (Right)</text>
<text transform="translate(0.5,417.2) rotate(0.04) scale(1,1.0)" x="0" y="0" font-size="13.0" text-anchor="start" font-weight="bold" fill="#000" textLength="9.0" lengthAdjust="spacingAndGlyphs"  stroke="#000" stroke-width="0.18">C</text>
<line x1="32.7" y1="413" x2="32.7" y2="538.2" stroke="#3a3a3a" stroke-width="0.9"/>
<line x1="30" y1="538.2" x2="197.5" y2="538.2" stroke="#3a3a3a" stroke-width="0.9"/>
<line x1="30" y1="538.50" x2="32.7" y2="538.50" stroke="#3a3a3a" stroke-width="0.9"/>
<text transform="translate(27.9,541.1) rotate(0.04) scale(1,1.12)" x="0" y="0" font-size="6.7" text-anchor="end" font-weight="normal" fill="#1a1a1a"  stroke="#1a1a1a" stroke-width="0.18">0</text>
<line x1="30" y1="518.00" x2="32.7" y2="518.00" stroke="#3a3a3a" stroke-width="0.9"/>
<text transform="translate(27.9,520.6) rotate(0.04) scale(1,1.12)" x="0" y="0" font-size="6.7" text-anchor="end" font-weight="normal" fill="#1a1a1a"  stroke="#1a1a1a" stroke-width="0.18">50</text>
<line x1="30" y1="497.50" x2="32.7" y2="497.50" stroke="#3a3a3a" stroke-width="0.9"/>
<text transform="translate(27.9,500.1) rotate(0.04) scale(1,1.12)" x="0" y="0" font-size="6.7" text-anchor="end" font-weight="normal" fill="#1a1a1a"  stroke="#1a1a1a" stroke-width="0.18">100</text>
<line x1="30" y1="477.00" x2="32.7" y2="477.00" stroke="#3a3a3a" stroke-width="0.9"/>
<text transform="translate(27.9,479.6) rotate(0.04) scale(1,1.12)" x="0" y="0" font-size="6.7" text-anchor="end" font-weight="normal" fill="#1a1a1a"  stroke="#1a1a1a" stroke-width="0.18">150</text>
<line x1="30" y1="456.50" x2="32.7" y2="456.50" stroke="#3a3a3a" stroke-width="0.9"/>
<text transform="translate(27.9,459.1) rotate(0.04) scale(1,1.12)" x="0" y="0" font-size="6.7" text-anchor="end" font-weight="normal" fill="#1a1a1a"  stroke="#1a1a1a" stroke-width="0.18">200</text>
<line x1="30" y1="436.00" x2="32.7" y2="436.00" stroke="#3a3a3a" stroke-width="0.9"/>
<text transform="translate(27.9,438.6) rotate(0.04) scale(1,1.12)" x="0" y="0" font-size="6.7" text-anchor="end" font-weight="normal" fill="#1a1a1a"  stroke="#1a1a1a" stroke-width="0.18">250</text>
<line x1="30" y1="415.50" x2="32.7" y2="415.50" stroke="#3a3a3a" stroke-width="0.9"/>
<text transform="translate(27.9,418.1) rotate(0.04) scale(1,1.12)" x="0" y="0" font-size="6.7" text-anchor="end" font-weight="normal" fill="#1a1a1a"  stroke="#1a1a1a" stroke-width="0.18">300</text>
<line x1="55.60" y1="538.2" x2="55.60" y2="540" stroke="#3a3a3a" stroke-width="0.9"/>
<text transform="translate(55.6,547) rotate(0.04) scale(1,1.0)" x="0" y="0" font-size="7" text-anchor="middle" font-weight="normal" fill="#1a1a1a"  stroke="#1a1a1a" stroke-width="0.18">5</text>
<line x1="86.00" y1="538.2" x2="86.00" y2="540" stroke="#3a3a3a" stroke-width="0.9"/>
<text transform="translate(86.0,547) rotate(0.04) scale(1,1.0)" x="0" y="0" font-size="7" text-anchor="middle" font-weight="normal" fill="#1a1a1a"  stroke="#1a1a1a" stroke-width="0.18">10</text>
<line x1="116.40" y1="538.2" x2="116.40" y2="540" stroke="#3a3a3a" stroke-width="0.9"/>
<text transform="translate(116.4,547) rotate(0.04) scale(1,1.0)" x="0" y="0" font-size="7" text-anchor="middle" font-weight="normal" fill="#1a1a1a"  stroke="#1a1a1a" stroke-width="0.18">15</text>
<line x1="146.80" y1="538.2" x2="146.80" y2="540" stroke="#3a3a3a" stroke-width="0.9"/>
<text transform="translate(146.8,547) rotate(0.04) scale(1,1.0)" x="0" y="0" font-size="7" text-anchor="middle" font-weight="normal" fill="#1a1a1a"  stroke="#1a1a1a" stroke-width="0.18">20</text>
<line x1="177.20" y1="538.2" x2="177.20" y2="540" stroke="#3a3a3a" stroke-width="0.9"/>
<text transform="translate(177.2,547) rotate(0.04) scale(1,1.0)" x="0" y="0" font-size="7" text-anchor="middle" font-weight="normal" fill="#1a1a1a"  stroke="#1a1a1a" stroke-width="0.18">25</text>
<rect x="40.30" y="537.32" width="15.30" height="0.88" fill="#fff" stroke="#505050" stroke-width="0.9"/>
<rect x="55.60" y="531.99" width="15.60" height="6.21" fill="#fff" stroke="#505050" stroke-width="0.9"/>
<rect x="71.20" y="495.50" width="15.40" height="42.70" fill="#fff" stroke="#505050" stroke-width="0.9"/>
<rect x="86.60" y="473.77" width="15.00" height="64.43" fill="#fff" stroke="#505050" stroke-width="0.9"/>
<rect x="101.60" y="403.25" width="15.20" height="134.95" fill="#fff" stroke="#505050" stroke-width="0.9"/>
<rect x="116.80" y="460.65" width="15.00" height="77.55" fill="#000" stroke="#505050" stroke-width="0.9"/>
<rect x="131.80" y="478.28" width="15.30" height="59.92" fill="#fff" stroke="#505050" stroke-width="0.9"/>
<rect x="147.10" y="528.30" width="15.10" height="9.90" fill="#fff" stroke="#505050" stroke-width="0.9"/>
<rect x="162.20" y="530.35" width="15.10" height="7.85" fill="#fff" stroke="#505050" stroke-width="0.9"/>
<rect x="177.30" y="536.50" width="15.40" height="1.70" fill="#fff" stroke="#505050" stroke-width="0.9"/>
<text transform="translate(117.6,448.0) rotate(0.04) scale(1,1.0)" x="0" y="0" font-size="7.0" text-anchor="start" font-weight="normal" fill="#1a1a1a" textLength="55.0" lengthAdjust="spacingAndGlyphs"  stroke="#1a1a1a" stroke-width="0.18">Observed in data:</text>
<text transform="translate(117.6,457.8) rotate(0.04) scale(1,1.0)" x="0" y="0" font-size="7.0" text-anchor="start" font-weight="bold" fill="#000" textLength="35.6" lengthAdjust="spacingAndGlyphs"  stroke="#000" stroke-width="0.18">15 KCγ-d's</text>
<text transform="translate(42.2,555.5) rotate(0.04) scale(1,1.0)" x="0" y="0" font-size="6.6" text-anchor="start" font-weight="normal" fill="#1a1a1a" textLength="156.0" lengthAdjust="spacingAndGlyphs"  stroke="#1a1a1a" stroke-width="0.18">Number of KCγ-d's in the left hemisphere that receive</text>
<text transform="translate(63.2,561.3) rotate(0.04) scale(1,1.0)" x="0" y="0" font-size="6.6" text-anchor="start" font-weight="normal" fill="#1a1a1a" textLength="114.2" lengthAdjust="spacingAndGlyphs"  stroke="#1a1a1a" stroke-width="0.18">identical inputs in the right hemisphere</text>
<text transform="translate(12.6,483.0) rotate(-89.96)" x="0" y="0" font-size="9.0" text-anchor="middle" fill="#1a1a1a" textLength="47.0" lengthAdjust="spacingAndGlyphs" stroke="#1a1a1a" stroke-width="0.18">Observations</text>
<text transform="translate(195.8,416.9) rotate(0.04) scale(1,1.0)" x="0" y="0" font-size="13.0" text-anchor="start" font-weight="bold" fill="#000" textLength="8.6" lengthAdjust="spacingAndGlyphs"  stroke="#000" stroke-width="0.18">D</text>
<line x1="228.4" y1="416" x2="228.4" y2="536.9" stroke="#3a3a3a" stroke-width="0.9"/>
<line x1="228.2" y1="536.9" x2="425.5" y2="536.9" stroke="#3a3a3a" stroke-width="0.9"/>
<line x1="225.5" y1="537.30" x2="228.4" y2="537.30" stroke="#3a3a3a" stroke-width="1.0"/>
<text transform="translate(224.2,539.8) rotate(0.04) scale(1,1.12)" x="0" y="0" font-size="6.7" text-anchor="end" font-weight="normal" fill="#1a1a1a"  stroke="#1a1a1a" stroke-width="0.18">0</text>
<line x1="225.5" y1="517.66" x2="228.4" y2="517.66" stroke="#3a3a3a" stroke-width="1.0"/>
<text transform="translate(224.2,520.16) rotate(0.04) scale(1,1.12)" x="0" y="0" font-size="6.7" text-anchor="end" font-weight="normal" fill="#1a1a1a"  stroke="#1a1a1a" stroke-width="0.18">50</text>
<line x1="225.5" y1="498.03" x2="228.4" y2="498.03" stroke="#3a3a3a" stroke-width="1.0"/>
<text transform="translate(224.2,500.53) rotate(0.04) scale(1,1.12)" x="0" y="0" font-size="6.7" text-anchor="end" font-weight="normal" fill="#1a1a1a"  stroke="#1a1a1a" stroke-width="0.18">100</text>
<line x1="225.5" y1="478.39" x2="228.4" y2="478.39" stroke="#3a3a3a" stroke-width="1.0"/>
<text transform="translate(224.2,480.89) rotate(0.04) scale(1,1.12)" x="0" y="0" font-size="6.7" text-anchor="end" font-weight="normal" fill="#1a1a1a"  stroke="#1a1a1a" stroke-width="0.18">150</text>
<line x1="225.5" y1="458.76" x2="228.4" y2="458.76" stroke="#3a3a3a" stroke-width="1.0"/>
<text transform="translate(224.2,461.26) rotate(0.04) scale(1,1.12)" x="0" y="0" font-size="6.7" text-anchor="end" font-weight="normal" fill="#1a1a1a"  stroke="#1a1a1a" stroke-width="0.18">200</text>
<line x1="225.5" y1="439.12" x2="228.4" y2="439.12" stroke="#3a3a3a" stroke-width="1.0"/>
<text transform="translate(224.2,441.62) rotate(0.04) scale(1,1.12)" x="0" y="0" font-size="6.7" text-anchor="end" font-weight="normal" fill="#1a1a1a"  stroke="#1a1a1a" stroke-width="0.18">250</text>
<line x1="225.5" y1="419.49" x2="228.4" y2="419.49" stroke="#3a3a3a" stroke-width="1.0"/>
<text transform="translate(224.2,421.99) rotate(0.04) scale(1,1.12)" x="0" y="0" font-size="6.7" text-anchor="end" font-weight="normal" fill="#1a1a1a"  stroke="#1a1a1a" stroke-width="0.18">300</text>
<line x1="254.7" y1="536.9" x2="254.7" y2="538.7" stroke="#3a3a3a" stroke-width="0.9"/>
<text transform="translate(254.7,545.3) rotate(0.04) scale(1,1.0)" x="0" y="0" font-size="7" text-anchor="middle" font-weight="normal" fill="#1a1a1a"  stroke="#1a1a1a" stroke-width="0.18">15</text>
<line x1="283.6" y1="536.9" x2="283.6" y2="538.7" stroke="#3a3a3a" stroke-width="0.9"/>
<text transform="translate(283.6,545.3) rotate(0.04) scale(1,1.0)" x="0" y="0" font-size="7" text-anchor="middle" font-weight="normal" fill="#1a1a1a"  stroke="#1a1a1a" stroke-width="0.18">20</text>
<line x1="312.5" y1="536.9" x2="312.5" y2="538.7" stroke="#3a3a3a" stroke-width="0.9"/>
<text transform="translate(312.5,545.3) rotate(0.04) scale(1,1.0)" x="0" y="0" font-size="7" text-anchor="middle" font-weight="normal" fill="#1a1a1a"  stroke="#1a1a1a" stroke-width="0.18">25</text>
<line x1="342" y1="536.9" x2="342" y2="538.7" stroke="#3a3a3a" stroke-width="0.9"/>
<text transform="translate(342,545.3) rotate(0.04) scale(1,1.0)" x="0" y="0" font-size="7" text-anchor="middle" font-weight="normal" fill="#1a1a1a"  stroke="#1a1a1a" stroke-width="0.18">30</text>
<line x1="371" y1="536.9" x2="371" y2="538.7" stroke="#3a3a3a" stroke-width="0.9"/>
<text transform="translate(371,545.3) rotate(0.04) scale(1,1.0)" x="0" y="0" font-size="7" text-anchor="middle" font-weight="normal" fill="#1a1a1a"  stroke="#1a1a1a" stroke-width="0.18">35</text>
<line x1="417.5" y1="536.9" x2="417.5" y2="538.7" stroke="#3a3a3a" stroke-width="0.9"/>
<text transform="translate(417.5,545.3) rotate(0.04) scale(1,1.0)" x="0" y="0" font-size="7" text-anchor="middle" font-weight="normal" fill="#1a1a1a"  stroke="#1a1a1a" stroke-width="0.18">50</text>
<circle cx="392.0" cy="544.6" r="0.95" fill="#111"/>
<circle cx="397.2" cy="544.6" r="0.95" fill="#111"/>
<circle cx="402.4" cy="544.6" r="0.95" fill="#111"/>
<rect x="236.10" y="534.50" width="14.40" height="2.40" fill="#fff" stroke="#444" stroke-width="0.9"/>
<rect x="250.50" y="529.70" width="13.80" height="7.20" fill="#fff" stroke="#444" stroke-width="0.9"/>
<rect x="264.30" y="500.80" width="14.50" height="36.10" fill="#fff" stroke="#444" stroke-width="0.9"/>
<rect x="278.80" y="483.50" width="14.40" height="53.40" fill="#fff" stroke="#444" stroke-width="0.9"/>
<rect x="293.20" y="451.00" width="14.10" height="85.90" fill="#fff" stroke="#444" stroke-width="0.9"/>
<rect x="307.30" y="423.70" width="14.50" height="113.20" fill="#fff" stroke="#444" stroke-width="0.9"/>
<rect x="321.80" y="487.30" width="14.40" height="49.60" fill="#fff" stroke="#444" stroke-width="0.9"/>
<rect x="336.20" y="501.70" width="14.20" height="35.20" fill="#fff" stroke="#444" stroke-width="0.9"/>
<rect x="350.40" y="531.90" width="14.10" height="5.00" fill="#fff" stroke="#444" stroke-width="0.9"/>
<rect x="364.50" y="536.70" width="14.50" height="0.20" fill="#fff" stroke="#444" stroke-width="0.9"/>
<rect x="417.3" y="429.8" width="4.4" height="107.1" fill="#000"/>
<text transform="translate(414.6,435.3) rotate(0.04) scale(1,1.0)" x="0" y="0" font-size="7.0" text-anchor="end" font-weight="normal" fill="#1a1a1a" textLength="51.6" lengthAdjust="spacingAndGlyphs"  stroke="#1a1a1a" stroke-width="0.18">Observed in data:</text>
<text transform="translate(414.8,445.6) rotate(0.04) scale(1,1.0)" x="0" y="0" font-size="7.0" text-anchor="end" font-weight="bold" fill="#000" textLength="27.0" lengthAdjust="spacingAndGlyphs"  stroke="#000" stroke-width="0.18">52 OPNs</text>
<text transform="translate(257,554.2) rotate(0.04) scale(1,1.0)" x="0" y="0" font-size="6.6" text-anchor="start" font-weight="normal" fill="#1a1a1a" textLength="144.2" lengthAdjust="spacingAndGlyphs"  stroke="#1a1a1a" stroke-width="0.18">Number of OPNs in the left hemisphere that receive</text>
<text transform="translate(268.2,560.3) rotate(0.04) scale(1,1.0)" x="0" y="0" font-size="6.6" text-anchor="start" font-weight="normal" fill="#1a1a1a" textLength="121.2" lengthAdjust="spacingAndGlyphs"  stroke="#1a1a1a" stroke-width="0.18">identical ORN input in the right hemisphere</text>
<text transform="translate(206.5,481.6) rotate(-89.96)" x="0" y="0" font-size="9.0" text-anchor="middle" fill="#1a1a1a" textLength="49.4" lengthAdjust="spacingAndGlyphs" stroke="#1a1a1a" stroke-width="0.18">Observations</text>
<text transform="translate(452.6,420.0) rotate(0.04) scale(1,1.0)" x="0" y="0" font-size="13.4" text-anchor="start" font-weight="bold" fill="#000" textLength="7.6" lengthAdjust="spacingAndGlyphs"  stroke="#000" stroke-width="0.18">E</text>
<line x1="487.5" y1="411.4" x2="487.5" y2="537.5" stroke="#3a3a3a" stroke-width="0.9"/>
<line x1="487.5" y1="537.5" x2="685" y2="537.5" stroke="#3a3a3a" stroke-width="0.9"/>
<line x1="484.8" y1="532.00" x2="487.5" y2="532.00" stroke="#3a3a3a" stroke-width="0.9"/>
<text transform="translate(483.6,534.4) rotate(0.04) scale(1,1.0)" x="0" y="0" font-size="6.5" text-anchor="end" font-weight="normal" fill="#1a1a1a"  stroke="#1a1a1a" stroke-width="0.18">0.00</text>
<line x1="484.8" y1="517.30" x2="487.5" y2="517.30" stroke="#3a3a3a" stroke-width="0.9"/>
<line x1="484.8" y1="502.60" x2="487.5" y2="502.60" stroke="#3a3a3a" stroke-width="0.9"/>
<text transform="translate(483.6,505.0) rotate(0.04) scale(1,1.0)" x="0" y="0" font-size="6.5" text-anchor="end" font-weight="normal" fill="#1a1a1a"  stroke="#1a1a1a" stroke-width="0.18">0.05</text>
<line x1="484.8" y1="487.90" x2="487.5" y2="487.90" stroke="#3a3a3a" stroke-width="0.9"/>
<line x1="484.8" y1="473.20" x2="487.5" y2="473.20" stroke="#3a3a3a" stroke-width="0.9"/>
<text transform="translate(483.6,475.6) rotate(0.04) scale(1,1.0)" x="0" y="0" font-size="6.5" text-anchor="end" font-weight="normal" fill="#1a1a1a"  stroke="#1a1a1a" stroke-width="0.18">0.10</text>
<line x1="484.8" y1="458.50" x2="487.5" y2="458.50" stroke="#3a3a3a" stroke-width="0.9"/>
<line x1="484.8" y1="443.80" x2="487.5" y2="443.80" stroke="#3a3a3a" stroke-width="0.9"/>
<text transform="translate(483.6,446.2) rotate(0.04) scale(1,1.0)" x="0" y="0" font-size="6.5" text-anchor="end" font-weight="normal" fill="#1a1a1a"  stroke="#1a1a1a" stroke-width="0.18">0.15</text>
<line x1="484.8" y1="429.10" x2="487.5" y2="429.10" stroke="#3a3a3a" stroke-width="0.9"/>
<line x1="484.8" y1="414.40" x2="487.5" y2="414.40" stroke="#3a3a3a" stroke-width="0.9"/>
<text transform="translate(483.6,416.8) rotate(0.04) scale(1,1.0)" x="0" y="0" font-size="6.5" text-anchor="end" font-weight="normal" fill="#1a1a1a"  stroke="#1a1a1a" stroke-width="0.18">0.20</text>
<line x1="487.65" y1="537.5" x2="487.65" y2="539.5" stroke="#3a3a3a" stroke-width="0.9"/>
<text transform="translate(487.65,546.6) rotate(0.04) scale(1,1.0)" x="0" y="0" font-size="7" text-anchor="middle" font-weight="normal" fill="#1a1a1a"  stroke="#1a1a1a" stroke-width="0.18">0</text>
<line x1="500.70" y1="537.5" x2="500.70" y2="539.5" stroke="#3a3a3a" stroke-width="0.9"/>
<line x1="513.75" y1="537.5" x2="513.75" y2="539.5" stroke="#3a3a3a" stroke-width="0.9"/>
<text transform="translate(513.75,546.6) rotate(0.04) scale(1,1.0)" x="0" y="0" font-size="7" text-anchor="middle" font-weight="normal" fill="#1a1a1a"  stroke="#1a1a1a" stroke-width="0.18">2</text>
<line x1="526.80" y1="537.5" x2="526.80" y2="539.5" stroke="#3a3a3a" stroke-width="0.9"/>
<line x1="539.85" y1="537.5" x2="539.85" y2="539.5" stroke="#3a3a3a" stroke-width="0.9"/>
<text transform="translate(539.85,546.6) rotate(0.04) scale(1,1.0)" x="0" y="0" font-size="7" text-anchor="middle" font-weight="normal" fill="#1a1a1a"  stroke="#1a1a1a" stroke-width="0.18">4</text>
<line x1="552.90" y1="537.5" x2="552.90" y2="539.5" stroke="#3a3a3a" stroke-width="0.9"/>
<line x1="565.95" y1="537.5" x2="565.95" y2="539.5" stroke="#3a3a3a" stroke-width="0.9"/>
<text transform="translate(565.95,546.6) rotate(0.04) scale(1,1.0)" x="0" y="0" font-size="7" text-anchor="middle" font-weight="normal" fill="#1a1a1a"  stroke="#1a1a1a" stroke-width="0.18">6</text>
<line x1="579.00" y1="537.5" x2="579.00" y2="539.5" stroke="#3a3a3a" stroke-width="0.9"/>
<line x1="592.05" y1="537.5" x2="592.05" y2="539.5" stroke="#3a3a3a" stroke-width="0.9"/>
<text transform="translate(592.05,546.6) rotate(0.04) scale(1,1.0)" x="0" y="0" font-size="7" text-anchor="middle" font-weight="normal" fill="#1a1a1a"  stroke="#1a1a1a" stroke-width="0.18">8</text>
<line x1="605.10" y1="537.5" x2="605.10" y2="539.5" stroke="#3a3a3a" stroke-width="0.9"/>
<line x1="618.15" y1="537.5" x2="618.15" y2="539.5" stroke="#3a3a3a" stroke-width="0.9"/>
<text transform="translate(618.15,546.6) rotate(0.04) scale(1,1.0)" x="0" y="0" font-size="7" text-anchor="middle" font-weight="normal" fill="#1a1a1a"  stroke="#1a1a1a" stroke-width="0.18">10</text>
<line x1="631.20" y1="537.5" x2="631.20" y2="539.5" stroke="#3a3a3a" stroke-width="0.9"/>
<line x1="644.25" y1="537.5" x2="644.25" y2="539.5" stroke="#3a3a3a" stroke-width="0.9"/>
<text transform="translate(644.25,546.6) rotate(0.04) scale(1,1.0)" x="0" y="0" font-size="7" text-anchor="middle" font-weight="normal" fill="#1a1a1a"  stroke="#1a1a1a" stroke-width="0.18">12</text>
<line x1="657.30" y1="537.5" x2="657.30" y2="539.5" stroke="#3a3a3a" stroke-width="0.9"/>
<line x1="670.35" y1="537.5" x2="670.35" y2="539.5" stroke="#3a3a3a" stroke-width="0.9"/>
<text transform="translate(670.35,546.6) rotate(0.04) scale(1,1.0)" x="0" y="0" font-size="7" text-anchor="middle" font-weight="normal" fill="#1a1a1a"  stroke="#1a1a1a" stroke-width="0.18">14</text>
<line x1="683.40" y1="537.5" x2="683.40" y2="539.5" stroke="#3a3a3a" stroke-width="0.9"/>
<text transform="translate(586.8,560.3) rotate(0.04) scale(1,1.0)" x="0" y="0" font-size="8.2" text-anchor="middle" font-weight="normal" fill="#1a1a1a" textLength="40.6" lengthAdjust="spacingAndGlyphs"  stroke="#1a1a1a" stroke-width="0.18">Component</text>
<text transform="translate(463.4,478.4) rotate(-89.96)" x="0" y="0" font-size="8.0" text-anchor="middle" fill="#1a1a1a" textLength="66.3" lengthAdjust="spacingAndGlyphs" stroke="#1a1a1a" stroke-width="0.18">Frac. Var. Explained</text>
<text transform="translate(524.4,422.6) rotate(0.04) scale(1,1.0)" x="0" y="0" font-size="9.0" text-anchor="start" font-weight="normal" fill="#1a1a1a" textLength="141.0" lengthAdjust="spacingAndGlyphs"  stroke="#1a1a1a" stroke-width="0.18">FlyWire Left vs. Right Hemisphere</text>
<line x1="500.70" y1="417.34" x2="500.70" y2="432.63" stroke="#7ea9ee" stroke-width="0.65"/>
<ellipse cx="500.70" cy="424.98" rx="2.3" ry="2.0" fill="#7ea9ee"/>
<line x1="500.70" y1="424.98" x2="500.70" y2="439.10" stroke="#c9411d" stroke-width="0.65"/>
<ellipse cx="500.70" cy="432.04" rx="2.2" ry="1.9" fill="#c9411d"/>
<ellipse cx="500.70" cy="428.51" rx="2.4" ry="2.0" fill="#000"/>
<line x1="513.75" y1="479.67" x2="513.75" y2="487.90" stroke="#7ea9ee" stroke-width="0.65"/>
<ellipse cx="513.75" cy="483.78" rx="2.3" ry="2.0" fill="#7ea9ee"/>
<line x1="513.75" y1="486.14" x2="513.75" y2="492.02" stroke="#c9411d" stroke-width="0.65"/>
<ellipse cx="513.75" cy="489.08" rx="2.2" ry="1.9" fill="#c9411d"/>
<ellipse cx="513.75" cy="484.37" rx="2.4" ry="2.0" fill="#000"/>
<line x1="526.80" y1="487.31" x2="526.80" y2="492.02" stroke="#7ea9ee" stroke-width="0.65"/>
<ellipse cx="526.80" cy="489.66" rx="2.3" ry="2.0" fill="#7ea9ee"/>
<line x1="526.80" y1="490.84" x2="526.80" y2="495.54" stroke="#c9411d" stroke-width="0.65"/>
<ellipse cx="526.80" cy="493.19" rx="2.2" ry="1.9" fill="#c9411d"/>
<ellipse cx="526.80" cy="490.25" rx="2.4" ry="2.0" fill="#000"/>
<line x1="539.85" y1="491.43" x2="539.85" y2="496.13" stroke="#7ea9ee" stroke-width="0.65"/>
<ellipse cx="539.85" cy="493.78" rx="2.3" ry="2.0" fill="#7ea9ee"/>
<line x1="539.85" y1="494.96" x2="539.85" y2="498.48" stroke="#c9411d" stroke-width="0.65"/>
<ellipse cx="539.85" cy="496.72" rx="2.2" ry="1.9" fill="#c9411d"/>
<ellipse cx="539.85" cy="496.72" rx="2.4" ry="2.0" fill="#000"/>
<line x1="552.90" y1="495.54" x2="552.90" y2="499.07" stroke="#7ea9ee" stroke-width="0.65"/>
<ellipse cx="552.90" cy="497.31" rx="2.3" ry="2.0" fill="#7ea9ee"/>
<line x1="552.90" y1="497.90" x2="552.90" y2="500.25" stroke="#c9411d" stroke-width="0.65"/>
<ellipse cx="552.90" cy="499.07" rx="2.2" ry="1.9" fill="#c9411d"/>
<ellipse cx="552.90" cy="497.31" rx="2.4" ry="2.0" fill="#000"/>
<line x1="565.95" y1="497.90" x2="565.95" y2="501.42" stroke="#7ea9ee" stroke-width="0.65"/>
<ellipse cx="565.95" cy="499.66" rx="2.3" ry="2.0" fill="#7ea9ee"/>
<line x1="565.95" y1="500.84" x2="565.95" y2="503.19" stroke="#c9411d" stroke-width="0.65"/>
<ellipse cx="565.95" cy="502.01" rx="2.2" ry="1.9" fill="#c9411d"/>
<ellipse cx="565.95" cy="500.25" rx="2.4" ry="2.0" fill="#000"/>
<line x1="579.00" y1="501.42" x2="579.00" y2="504.95" stroke="#7ea9ee" stroke-width="0.65"/>
<ellipse cx="579.00" cy="503.19" rx="2.3" ry="2.0" fill="#7ea9ee"/>
<line x1="579.00" y1="504.95" x2="579.00" y2="507.30" stroke="#c9411d" stroke-width="0.65"/>
<ellipse cx="579.00" cy="506.13" rx="2.2" ry="1.9" fill="#c9411d"/>
<ellipse cx="579.00" cy="506.72" rx="2.4" ry="2.0" fill="#000"/>
<line x1="592.05" y1="504.95" x2="592.05" y2="507.30" stroke="#7ea9ee" stroke-width="0.65"/>
<ellipse cx="592.05" cy="506.13" rx="2.3" ry="2.0" fill="#7ea9ee"/>
<line x1="592.05" y1="507.89" x2="592.05" y2="510.24" stroke="#c9411d" stroke-width="0.65"/>
<ellipse cx="592.05" cy="509.07" rx="2.2" ry="1.9" fill="#c9411d"/>
<ellipse cx="592.05" cy="510.24" rx="2.4" ry="2.0" fill="#000"/>
<line x1="605.10" y1="507.30" x2="605.10" y2="509.66" stroke="#7ea9ee" stroke-width="0.65"/>
<ellipse cx="605.10" cy="508.48" rx="2.3" ry="2.0" fill="#7ea9ee"/>
<line x1="605.10" y1="509.07" x2="605.10" y2="511.42" stroke="#c9411d" stroke-width="0.65"/>
<ellipse cx="605.10" cy="510.24" rx="2.2" ry="1.9" fill="#c9411d"/>
<ellipse cx="605.10" cy="510.83" rx="2.4" ry="2.0" fill="#000"/>
<line x1="618.15" y1="509.66" x2="618.15" y2="512.01" stroke="#7ea9ee" stroke-width="0.65"/>
<ellipse cx="618.15" cy="510.83" rx="2.3" ry="2.0" fill="#7ea9ee"/>
<line x1="618.15" y1="511.13" x2="618.15" y2="512.89" stroke="#c9411d" stroke-width="0.65"/>
<ellipse cx="618.15" cy="512.01" rx="2.2" ry="1.9" fill="#c9411d"/>
<ellipse cx="618.15" cy="512.01" rx="2.4" ry="2.0" fill="#000"/>
<line x1="631.20" y1="512.30" x2="631.20" y2="514.07" stroke="#7ea9ee" stroke-width="0.65"/>
<ellipse cx="631.20" cy="513.18" rx="2.3" ry="2.0" fill="#7ea9ee"/>
<line x1="631.20" y1="512.89" x2="631.20" y2="514.65" stroke="#c9411d" stroke-width="0.65"/>
<ellipse cx="631.20" cy="513.77" rx="2.2" ry="1.9" fill="#c9411d"/>
<ellipse cx="631.20" cy="513.77" rx="2.4" ry="2.0" fill="#000"/>
<line x1="644.25" y1="514.07" x2="644.25" y2="515.83" stroke="#7ea9ee" stroke-width="0.65"/>
<ellipse cx="644.25" cy="514.95" rx="2.3" ry="2.0" fill="#7ea9ee"/>
<line x1="644.25" y1="514.95" x2="644.25" y2="516.12" stroke="#c9411d" stroke-width="0.65"/>
<ellipse cx="644.25" cy="515.54" rx="2.2" ry="1.9" fill="#c9411d"/>
<ellipse cx="644.25" cy="515.54" rx="2.4" ry="2.0" fill="#000"/>
<line x1="657.30" y1="516.12" x2="657.30" y2="517.30" stroke="#7ea9ee" stroke-width="0.65"/>
<ellipse cx="657.30" cy="516.71" rx="2.3" ry="2.0" fill="#7ea9ee"/>
<line x1="657.30" y1="516.12" x2="657.30" y2="517.30" stroke="#c9411d" stroke-width="0.65"/>
<ellipse cx="657.30" cy="516.71" rx="2.2" ry="1.9" fill="#c9411d"/>
<ellipse cx="657.30" cy="516.71" rx="2.4" ry="2.0" fill="#000"/>
<line x1="670.35" y1="517.89" x2="670.35" y2="519.06" stroke="#7ea9ee" stroke-width="0.65"/>
<ellipse cx="670.35" cy="518.48" rx="2.3" ry="2.0" fill="#7ea9ee"/>
<line x1="670.35" y1="517.89" x2="670.35" y2="519.06" stroke="#c9411d" stroke-width="0.65"/>
<ellipse cx="670.35" cy="518.48" rx="2.2" ry="1.9" fill="#c9411d"/>
<ellipse cx="670.35" cy="518.48" rx="2.4" ry="2.0" fill="#000"/>
<line x1="683.40" y1="519.65" x2="683.40" y2="520.83" stroke="#7ea9ee" stroke-width="0.65"/>
<ellipse cx="683.40" cy="520.24" rx="2.3" ry="2.0" fill="#7ea9ee"/>
<line x1="683.40" y1="519.06" x2="683.40" y2="520.24" stroke="#c9411d" stroke-width="0.65"/>
<ellipse cx="683.40" cy="519.65" rx="2.2" ry="1.9" fill="#c9411d"/>
<ellipse cx="683.40" cy="520.24" rx="2.4" ry="2.0" fill="#000"/>
<rect x="593.1" y="441.8" width="65.7" height="32.9" fill="#fff" stroke="#555" stroke-width="0.8"/>
<circle cx="598.4" cy="449.1" r="1.9" fill="#000"/>
<text transform="translate(601.7,451.4) rotate(0.04) scale(1,1.0)" x="0" y="0" font-size="6.9" text-anchor="start" font-weight="normal" fill="#1a1a1a" textLength="15.0" lengthAdjust="spacingAndGlyphs"  stroke="#1a1a1a" stroke-width="0.18">Data</text>
<circle cx="598.4" cy="458.9" r="1.9" fill="#c9411d"/>
<text transform="translate(601.7,461.2) rotate(0.04) scale(1,1.0)" x="0" y="0" font-size="6.9" text-anchor="start" font-weight="normal" fill="#1a1a1a" textLength="46.5" lengthAdjust="spacingAndGlyphs"  stroke="#1a1a1a" stroke-width="0.18">Random model</text>
<circle cx="598.4" cy="468.5" r="1.9" fill="#7ea9ee"/>
<text transform="translate(601.7,470.8) rotate(0.04) scale(1,1.0)" x="0" y="0" font-size="6.9" text-anchor="start" font-weight="normal" fill="#1a1a1a" textLength="54.3" lengthAdjust="spacingAndGlyphs"  stroke="#1a1a1a" stroke-width="0.18">Symmetric model</text>
</svg>
</body></html>
